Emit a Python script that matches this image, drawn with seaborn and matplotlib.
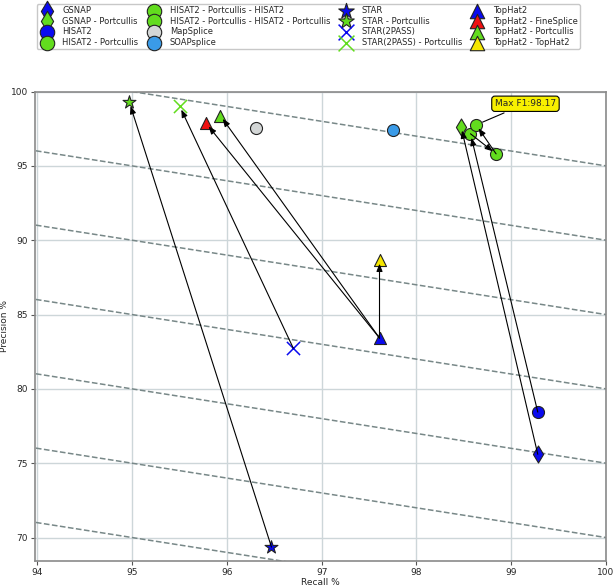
import pandas as pd
import numpy as np
import seaborn as sns
import matplotlib.pyplot as plt


tools = ['GSNAP', 'GSNAP - Portcullis', 'HISAT2', 'HISAT2 - Portcullis',
         'HISAT2 - Portcullis - HISAT2', 'HISAT2 - Portcullis - HISAT2 - Portcullis',
         'MapSplice', 'SOAPsplice', 'STAR', 'STAR - Portcullis',
         'STAR(2PASS)', 'STAR(2PASS) - Portcullis',
         'TopHat2', 'TopHat2 - FineSplice', 'TopHat2 - Portcullis', 'TopHat2 - TopHat2']
recall = [99.28, 98.47, 99.28, 98.57,
          98.84, 98.63,
          96.31, 97.75, 96.47, 94.97,
          96.70, 95.50,
          97.61, 95.78, 95.93, 97.61]
precision = [75.6, 97.65, 78.44, 97.16,
             95.81, 97.76,
             97.58, 97.40, 69.36, 99.29,
             82.74, 99.04,
             83.42, 97.87, 98.39, 88.7]
colors = ['#0a0aef', '#62dc1e', '#0a0aef', '#62dc1e',
          '#62dc1e', '#62dc1e',
          '#d3d6d6', '#3a9be8', '#0a0aef', '#62dc1e',
          '#0a0aef', '#62dc1e',
          '#0a0aef', '#f01010', '#62dc1e', '#f5e600']
markers = ['d', 'd', 'o', 'o', 'o', 'o', 'o', 'o', '*', '*', 'x', 'x', '^', '^', '^', '^']

# improvement arrows: (from, to)
links = [('GSNAP', 'GSNAP - Portcullis'),
         ('HISAT2', 'HISAT2 - Portcullis'),
         ('HISAT2 - Portcullis', 'HISAT2 - Portcullis - HISAT2'),
         ('HISAT2 - Portcullis - HISAT2', 'HISAT2 - Portcullis - HISAT2 - Portcullis'),
         ('STAR', 'STAR - Portcullis'),
         ('STAR(2PASS)', 'STAR(2PASS) - Portcullis'),
         ('TopHat2', 'TopHat2 - FineSplice'),
         ('TopHat2', 'TopHat2 - Portcullis'),
         ('TopHat2', 'TopHat2 - TopHat2')]

# recall + precision = const guide lines
guide_sums = [165, 170, 175, 180, 185, 190, 195]

df = pd.DataFrame({'tool': tools, 'recall': recall, 'precision': precision,
                   'color': colors, 'marker': markers})

sns.set_style('whitegrid')
plt.rcParams['font.family'] = ['DejaVu Sans']

fig, ax = plt.subplots(figsize=(6.14, 5.87), dpi=100)
fig.subplots_adjust(left=0.057, right=0.987, top=0.844, bottom=0.045)

gx = np.array([93.9, 100.1])
for s in guide_sums:
    ax.plot(gx, s - gx, ls='--', color='#788888', lw=1.1, zorder=1)

for _, row in df.iterrows():
    if row['marker'] == 'x':
        sns.scatterplot(x=[row['recall']], y=[row['precision']], marker='x',
                        color=row['color'], s=90, linewidth=1.1,
                        label=row['tool'], ax=ax, zorder=3)
    else:
        sns.scatterplot(x=[row['recall']], y=[row['precision']], marker=row['marker'],
                        color=row['color'], s=95 if row['marker'] == '*' else 75,
                        edgecolor='#222222', linewidth=0.8,
                        label=row['tool'], ax=ax, zorder=3)

pos = df.set_index('tool')
for a, b in links:
    ax.annotate('', xy=(pos.loc[b, 'recall'], pos.loc[b, 'precision']),
                xytext=(pos.loc[a, 'recall'], pos.loc[a, 'precision']),
                arrowprops=dict(arrowstyle='-|>,head_length=0.45,head_width=0.18',
                                fc='black', ec='black', lw=0.8, shrinkA=0, shrinkB=3),
                zorder=4)

best = 'HISAT2 - Portcullis - HISAT2 - Portcullis'
ax.annotate('Max F1:98.17', xy=(pos.loc[best, 'recall'], pos.loc[best, 'precision']),
            xytext=(99.15, 99.18), ha='center', va='center', fontsize=6.5,
            bbox=dict(boxstyle='round,pad=0.35', fc='#f8f000', ec='black', lw=0.8),
            arrowprops=dict(arrowstyle='-', color='black', lw=0.8, shrinkB=5),
            zorder=5)

ax.set_xlim(93.975, 100)
ax.set_ylim(68.45, 100)
ax.set_xticks(range(94, 101))
ax.set_yticks(range(70, 101, 5))
ax.grid(True, color='#cdd6d9', lw=1)
ax.tick_params(labelsize=6.5, length=3, width=0.8, pad=2, left=True, bottom=True,
               color='#555555')
for sp in ax.spines.values():
    sp.set_color('#8a8a8a')
    sp.set_linewidth(1.2)
ax.set_xlabel('Recall %', fontsize=6.5, labelpad=1)
ax.set_ylabel('Precision %', fontsize=6.5, labelpad=1)

h, l = ax.get_legend_handles_labels()
ax.legend_.remove()
fig.legend(h, l, loc='upper center', bbox_to_anchor=(0.502, 1.0), ncol=4,
           fontsize=6, labelspacing=0.2, handletextpad=0.9, columnspacing=0.85,
           borderpad=0.2, markerscale=1.2, frameon=True, edgecolor='#bbbbbb',
           fancybox=True)

fig.savefig('out.png', dpi=100)
